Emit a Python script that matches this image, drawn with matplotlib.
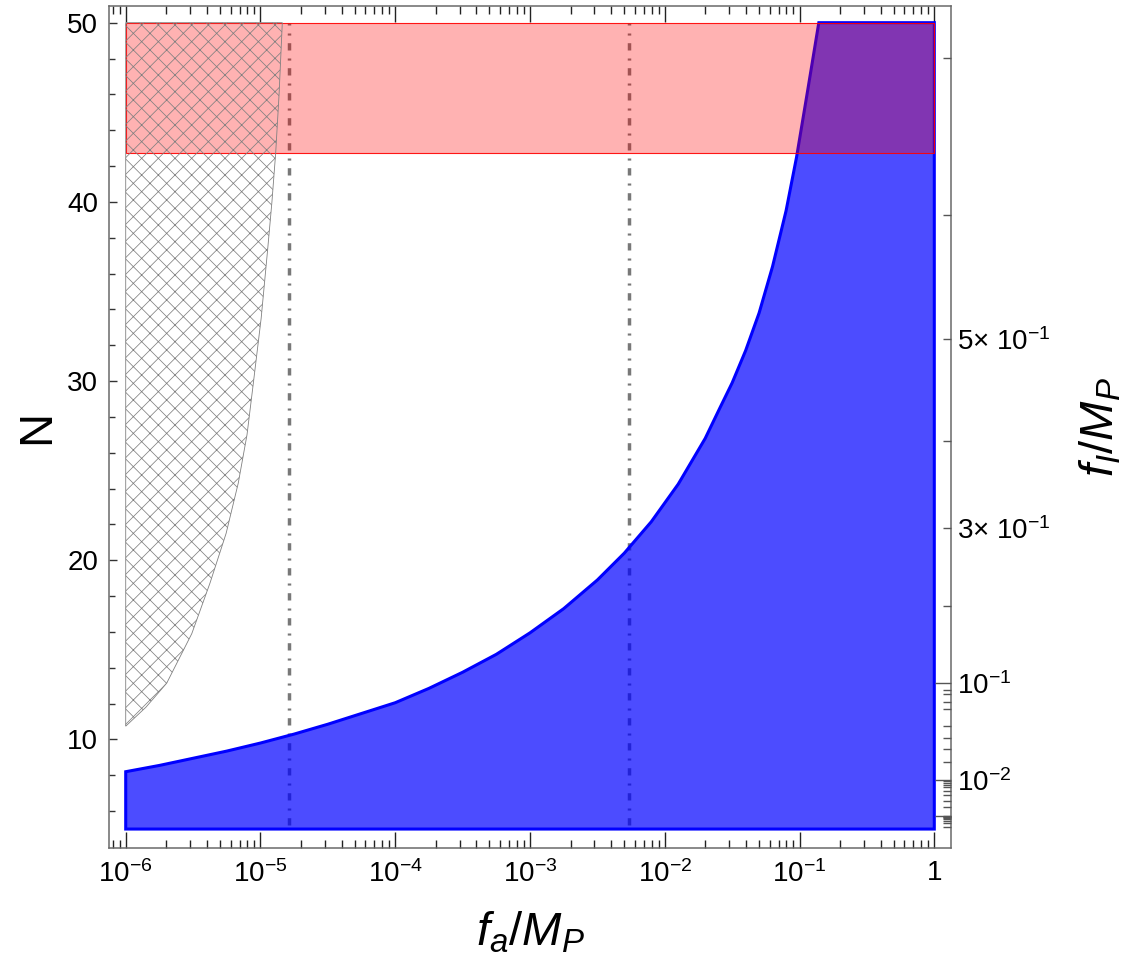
import numpy as np
import matplotlib
matplotlib.use("Agg")
import matplotlib.pyplot as plt
from matplotlib.ticker import FixedLocator, NullFormatter

plt.rcParams["font.family"] = ["Liberation Sans", "DejaVu Sans"]
plt.rcParams["mathtext.fontset"] = "custom"
plt.rcParams["mathtext.rm"] = "Liberation Sans"
plt.rcParams["mathtext.it"] = "Liberation Sans:italic"
plt.rcParams["mathtext.bf"] = "Liberation Sans:bold"
plt.rcParams["hatch.linewidth"] = 0.55

# ---- data -------------------------------------------------------------
# upper edge of the allowed (blue) region: log10(f_a/M_P) and N
bound_log_fa = [-6.0, -5.75, -5.5, -5.25, -5.0, -4.75, -4.5, -4.25, -4.0,
                -3.75, -3.5, -3.25, -3.0, -2.75, -2.5, -2.3, -2.1, -1.9,
                -1.7, -1.591, -1.5, -1.4, -1.3, -1.2, -1.1, -1.022, -0.94,
                -0.857]
bound_N = [8.2, 8.55, 8.95, 9.35, 9.8, 10.3, 10.85, 11.45, 12.05,
           12.85, 13.75, 14.75, 15.95, 17.3, 18.9, 20.4, 22.15, 24.25,
           26.8, 28.5, 29.9, 31.7, 33.8, 36.4, 39.5, 42.5, 46.2,
           50.0]
N_min, N_max = 5.0, 50.0
fa_min, fa_max = 1e-6, 1.0

# hatched excluded region: right edge, log10(f_a/M_P) and N
hatch_log_fa = [-6.0, -5.85, -5.696, -5.51, -5.375, -5.255, -5.165, -5.10,
                -5.053, -4.995, -4.947, -4.915, -4.887, -4.862, -4.838]
hatch_N = [10.74, 11.8, 13.14, 15.9, 18.72, 21.5, 24.3, 27.0,
           29.88, 33.5, 37.32, 40.0, 42.75, 46.0, 50.0]

# red band in N
band_N = [42.73, 50.0]

# reference values of f_a (dash-dotted lines)
fa_marks = [1.64e-5, 5.4e-3]
mark_N = [5.2, 50.0]

# f_I/M_P scale on the right and the N each value corresponds to
fI_major = [1e-3, 1e-2, 1e-1]
fI_major_N = [5.75, 7.72, 13.14]
fI_major_labels = ["", r"$10^{-2}$", r"$10^{-1}$"]
fI_minor = [0.0002, 0.0003, 0.0004, 0.0005, 0.0006, 0.0007, 0.0008, 0.0009,
            0.002, 0.003, 0.004, 0.005, 0.006, 0.007, 0.008, 0.009,
            0.02, 0.03, 0.04, 0.05, 0.06, 0.07, 0.08, 0.09,
            0.2, 0.3, 0.4, 0.5, 0.6, 0.7]
fI_minor_N = [5.14, 5.31, 5.45, 5.54, 5.60, 5.65, 5.69, 5.71,
              6.23, 6.57, 6.90, 7.12, 7.32, 7.46, 7.57, 7.66,
              8.73, 9.45, 10.10, 10.77, 11.69, 12.11, 12.52, 12.76,
              17.45, 21.82, 26.66, 32.33, 39.27, 48.03]
fI_minor_labels = {0.3: "3× $10^{-1}$", 0.5: "5× $10^{-1}$"}

x_ticks = [1e-6, 1e-5, 1e-4, 1e-3, 1e-2, 1e-1, 1.0]
x_tick_labels = [r"$10^{-6}$", r"$10^{-5}$", r"$10^{-4}$", r"$10^{-3}$",
                 r"$10^{-2}$", r"$10^{-1}$", "1"]

# ---- figure -----------------------------------------------------------
fig = plt.figure(figsize=(11.3, 9.6), dpi=100)
ax = fig.add_axes([0.0967, 0.1170, 0.7449, 0.8771])
ax.set_xscale("log")
ax.set_xlim(10 ** -6.122, 10 ** 0.124)
ax.set_ylim(3.96, 50.95)

# dash-dotted reference lines (beneath the shaded regions)
for fa in fa_marks:
    ax.plot([fa, fa], mark_N, color="#787878", lw=2.5,
            linestyle=(0, (2.1, 2.2, 0.6, 2.3)), zorder=1)

# blue allowed region
bx = [fa_min] + [10 ** v for v in bound_log_fa] + [fa_max, fa_max, fa_min]
by = [N_min] + bound_N + [N_max, N_min, N_min]
ax.fill(bx, by, facecolor=(0, 0, 1, 0.7), edgecolor=(0, 0, 1, 1),
        lw=2.2, joinstyle="miter", zorder=2)

# red band
ax.fill([fa_min, fa_max, fa_max, fa_min],
        [band_N[0], band_N[0], band_N[1], band_N[1]],
        facecolor=(1, 0, 0, 0.3), edgecolor=(1, 0, 0, 0.9), lw=0.8, zorder=3)

# hatched region
hx = [10 ** v for v in hatch_log_fa] + [fa_min]
hy = hatch_N + [N_max]
ax.fill(hx, hy, facecolor="none", edgecolor="#808080", hatch="xx",
        lw=0.6, zorder=4)

# ---- axes styling -----------------------------------------------------
for s in ax.spines.values():
    s.set_color("#6a6a6a")
    s.set_linewidth(1.1)

ax.xaxis.set_major_locator(FixedLocator(x_ticks))
ax.set_xticklabels(x_tick_labels)
minor_x = [m * 10.0 ** e for e in range(-7, 1) for m in range(2, 10)]
ax.xaxis.set_minor_locator(FixedLocator(minor_x))
ax.xaxis.set_minor_formatter(NullFormatter())
ax.tick_params(axis="x", which="both", direction="in", top=True, bottom=True,
               color="#222222", width=1.0, labelsize=20, pad=9)
ax.tick_params(axis="x", which="major", length=11.5)
ax.tick_params(axis="x", which="minor", length=5.8)

ax.set_yticks([10, 20, 30, 40, 50])
ax.set_yticks(np.arange(6, 51, 2), minor=True)
ax.tick_params(axis="y", which="both", direction="in", left=True, right=False,
               color="#333333", width=1.0, labelsize=20, pad=8)
ax.tick_params(axis="y", which="major", length=5.4)
ax.tick_params(axis="y", which="minor", length=4.0)

ax.set_xlabel(r"$f_a/M_P$", fontsize=34, labelpad=16)
ax.set_ylabel("N", fontsize=34, labelpad=6)

# right-hand f_I/M_P scale
ax2 = ax.twinx()
ax2.set_ylim(ax.get_ylim())
ax2.set_yticks(fI_major_N, labels=fI_major_labels)
ax2.set_yticks(fI_minor_N, labels=[fI_minor_labels.get(v, "") for v in fI_minor],
               minor=True)
ax2.tick_params(axis="y", which="both", direction="in", right=True, left=False,
                color="#555555", width=1.0, labelsize=20, pad=4)
ax2.tick_params(axis="y", which="major", length=11.5)
ax2.tick_params(axis="y", which="minor", length=5.8)
for s in ax2.spines.values():
    s.set_visible(False)
ax2.set_ylabel(r"$f_I/M_P$", fontsize=34, labelpad=20)

fig.savefig("out.png", dpi=100)
